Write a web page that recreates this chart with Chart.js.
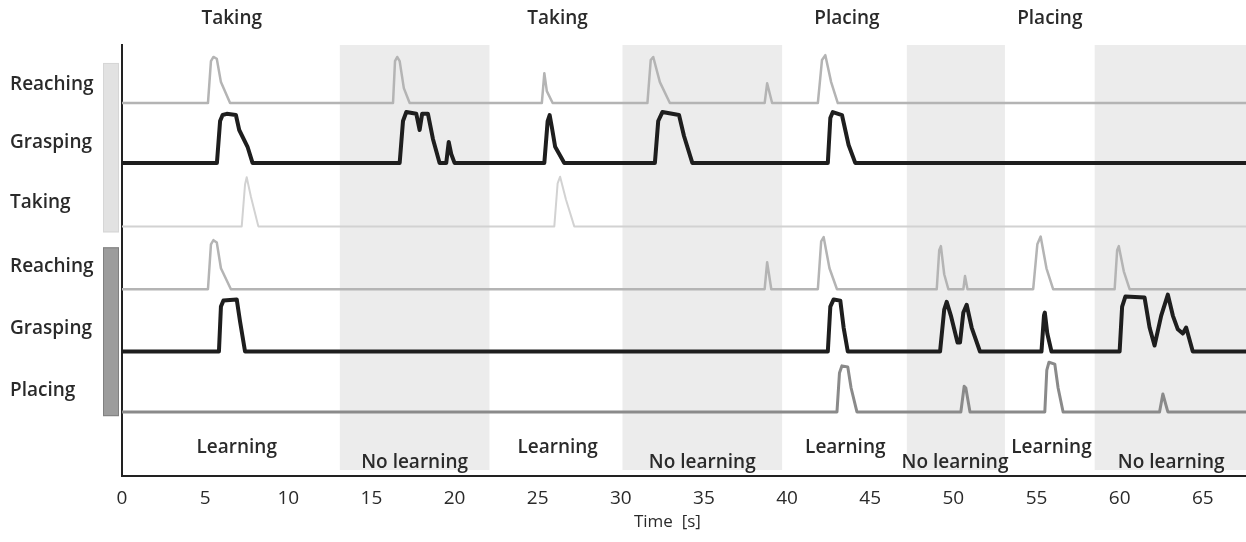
<!DOCTYPE html>
<html>
<head>
<meta charset="utf-8">
<script src="https://cdn.jsdelivr.net/npm/chart.js@4"></script>
<style>
  html, body { margin: 0; padding: 0; background: #fff; }
  #wrap { width: 1246px; height: 542px; }
</style>
</head>
<body>
<div id="wrap"><canvas id="chart"></canvas></div>
<script>
// time in seconds, amplitude in row units (1 unit ~ one row height)
const rowNames = ["Reaching", "Grasping", "Taking", "Reaching", "Grasping", "Placing"];
const rowOffsets = [6.23, 5.23, 4.17, 3.12, 2.08, 1.07];
const rowLabelLevels = [6.54, 5.57, 4.57, 3.5, 2.46, 1.43];
const rowColors = ["#b4b4b4", "#1e1e1e", "#d2d2d2", "#b4b4b4", "#1e1e1e", "#8a8a8a"];
const rowWidths = [2.5, 4, 2, 2.5, 4, 3];
const xTicks = [0, 5, 10, 15, 20, 25, 30, 35, 40, 45, 50, 55, 60, 65];
const xTitle = "Time  [s]";
const xTitleAt = 32.8;

const reachingTop = [[0, 0], [5.17, 0], [5.35, 0.7], [5.5, 0.77], [5.7, 0.74], [5.95, 0.35], [6.5, 0], [16.3, 0], [16.42, 0.7], [16.55, 0.77], [16.7, 0.7], [16.95, 0.25], [17.3, 0], [25.25, 0], [25.4, 0.5], [25.55, 0.2], [25.9, 0], [31.6, 0], [31.8, 0.72], [31.95, 0.77], [32.35, 0.35], [32.95, 0], [38.65, 0], [38.8, 0.33], [39.1, 0], [41.85, 0], [42.1, 0.72], [42.3, 0.8], [42.65, 0.35], [43.05, 0], [67.6, 0]];
const graspingTop = [[0, 0], [5.71, 0], [5.9, 0.7], [6.05, 0.8], [6.3, 0.82], [6.85, 0.8], [7.05, 0.55], [7.55, 0.27], [7.85, 0], [16.7, 0], [16.9, 0.7], [17.1, 0.85], [17.7, 0.82], [17.9, 0.55], [18.05, 0.82], [18.4, 0.82], [18.7, 0.4], [19.1, 0], [19.5, 0], [19.65, 0.35], [19.8, 0.15], [20.0, 0], [25.4, 0], [25.6, 0.7], [25.72, 0.8], [25.85, 0.6], [26.05, 0.27], [26.6, 0], [32.05, 0], [32.25, 0.7], [32.5, 0.85], [33.5, 0.8], [33.8, 0.45], [34.3, 0], [42.45, 0], [42.6, 0.75], [42.75, 0.85], [43.3, 0.8], [43.7, 0.3], [44.1, 0], [67.6, 0]];
const takingTop = [[0, 0], [7.2, 0], [7.4, 0.7], [7.5, 0.82], [7.75, 0.5], [8.2, 0], [26.0, 0], [26.2, 0.72], [26.35, 0.83], [26.7, 0.45], [27.2, 0], [67.6, 0]];
const reachingBottom = [[0, 0], [5.17, 0], [5.35, 0.75], [5.5, 0.82], [5.7, 0.78], [5.95, 0.35], [6.55, 0], [38.65, 0], [38.8, 0.45], [39.05, 0], [41.85, 0], [42.05, 0.8], [42.2, 0.87], [42.55, 0.35], [43.0, 0], [49.0, 0], [49.15, 0.65], [49.25, 0.72], [49.45, 0.25], [49.7, 0], [50.6, 0], [50.7, 0.22], [50.85, 0], [54.8, 0], [55.05, 0.75], [55.25, 0.88], [55.6, 0.35], [56.0, 0], [59.7, 0], [59.85, 0.65], [59.95, 0.72], [60.25, 0.3], [60.6, 0], [67.6, 0]];
const graspingBottom = [[0, 0], [5.83, 0], [5.95, 0.75], [6.1, 0.85], [6.9, 0.87], [7.1, 0.5], [7.4, 0], [42.45, 0], [42.6, 0.75], [42.8, 0.87], [43.2, 0.85], [43.4, 0.4], [43.65, 0], [49.2, 0], [49.45, 0.7], [49.6, 0.83], [49.85, 0.6], [50.25, 0.15], [50.4, 0.15], [50.6, 0.65], [50.8, 0.78], [51.1, 0.4], [51.6, 0], [55.3, 0], [55.45, 0.6], [55.5, 0.65], [55.65, 0.3], [55.9, 0], [60.0, 0], [60.15, 0.75], [60.35, 0.92], [61.5, 0.9], [61.8, 0.4], [62.1, 0.1], [62.5, 0.6], [62.9, 0.95], [63.2, 0.6], [63.5, 0.37], [63.8, 0.3], [64.0, 0.4], [64.4, 0], [67.6, 0]];
const placingBottom = [[0, 0], [43.0, 0], [43.15, 0.65], [43.3, 0.77], [43.65, 0.75], [43.85, 0.4], [44.2, 0], [50.45, 0], [50.65, 0.43], [50.75, 0.4], [51.0, 0], [55.5, 0], [55.62, 0.7], [55.75, 0.83], [56.1, 0.8], [56.3, 0.4], [56.6, 0], [62.4, 0], [62.6, 0.3], [62.9, 0], [67.6, 0]];
const rows = [reachingTop, graspingTop, takingTop, reachingBottom, graspingBottom, placingBottom];

const noLearning = [[13.1, 22.1], [30.1, 39.7], [47.2, 53.1], [58.5, 67.6]];
const phaseLabels = ["Learning", "No learning", "Learning", "No learning", "Learning", "No learning", "Learning", "No learning"];
const phaseTimes = [6.9, 17.6, 26.2, 34.9, 43.5, 50.1, 55.9, 63.1];
const phaseLevels = [0.48, 0.23, 0.48, 0.23, 0.48, 0.23, 0.48, 0.23];
const actionLabels = ["Taking", "Taking", "Placing", "Placing"];
const actionTimes = [6.6, 26.2, 43.6, 55.8];
// side bars marking the two task blocks, in y units
const blockBars = [[4.07, 6.9, "#e2e2e2", "#d6d6d6"], [1.0, 3.82, "#9c9c9c", "#808080"]];

const font = "'Open Sans', 'Noto Sans', sans-serif";

const datasets = rows.map((pts, i) => ({
	label: rowNames[i],
	data: pts.map((p) => ({ x: p[0], y: p[1] + rowOffsets[i] })),
	borderColor: rowColors[i],
	borderWidth: rowWidths[i],
	borderJoinStyle: "round",
	pointRadius: 0,
	tension: 0,
	fill: false,
}));

const decorations = {
	id: "decorations",
	beforeDatasetsDraw(chart) {
		const { ctx, chartArea, scales } = chart;
		const x = scales.x, y = scales.y;
		ctx.save();
		ctx.fillStyle = "#ececec";
		noLearning.forEach(([a, b]) => {
			const x0 = x.getPixelForValue(a), x1 = x.getPixelForValue(b);
			ctx.fillRect(x0, chartArea.top, x1 - x0, chartArea.bottom - chartArea.top - 6);
		});
		blockBars.forEach(([lo, hi, fillC, edge]) => {
			const yTop = y.getPixelForValue(hi), yBot = y.getPixelForValue(lo);
			ctx.fillStyle = fillC;
			ctx.fillRect(chartArea.left - 19, yTop, 16, yBot - yTop);
			ctx.strokeStyle = edge;
			ctx.lineWidth = 1;
			ctx.strokeRect(chartArea.left - 19 + 0.5, yTop + 0.5, 15, yBot - yTop - 1);
		});
		ctx.restore();
	},
	afterDatasetsDraw(chart) {
		const { ctx, scales } = chart;
		const x = scales.x, y = scales.y;
		ctx.save();
		ctx.fillStyle = "#2a2a2a";
		ctx.textAlign = "center";
		ctx.textBaseline = "middle";
		ctx.font = "600 19px " + font;
		phaseLabels.forEach((t, i) => {
			ctx.fillText(t, x.getPixelForValue(phaseTimes[i]), y.getPixelForValue(phaseLevels[i]));
		});
		actionLabels.forEach((t, i) => {
			ctx.fillText(t, x.getPixelForValue(actionTimes[i]), 19);
		});
		ctx.font = "17px " + font;
		ctx.fillText(xTitle, x.getPixelForValue(xTitleAt), 522);
		ctx.restore();
	},
};

new Chart(document.getElementById("chart"), {
	type: "line",
	data: { datasets },
	plugins: [decorations],
	options: {
		responsive: true,
		maintainAspectRatio: false,
		animation: false,
		layout: { padding: { top: 45, left: 10, right: 0, bottom: 0 } },
		plugins: { legend: { display: false }, tooltip: { enabled: false } },
		scales: {
			x: {
				type: "linear",
				min: 0,
				max: 67.6,
				grid: { display: false, drawTicks: false },
				border: { display: true, color: "#222", width: 2 },
				afterFit(scale) { scale.height = 66; },
				afterBuildTicks(scale) {
					scale.ticks = xTicks.map((v) => ({ value: v }));
				},
				ticks: { autoSkip: false, maxRotation: 0, color: "#2a2a2a", padding: 11, font: { family: font, size: 19 } },
			},
			y: {
				type: "linear",
				min: 0,
				max: 7.2,
				grid: { display: false, drawTicks: false },
				border: { display: true, color: "#222", width: 2 },
				afterFit(scale) { scale.width = 112; },
				afterBuildTicks(scale) {
					scale.ticks = rowLabelLevels.map((v) => ({ value: v }));
				},
				ticks: {
					color: "#2a2a2a",
					crossAlign: "far",
					autoSkip: false,
					font: { family: font, size: 19, weight: "600" },
					callback: (v, i) => rowNames[i],
				},
			},
		},
	},
});
</script>
</body>
</html>
